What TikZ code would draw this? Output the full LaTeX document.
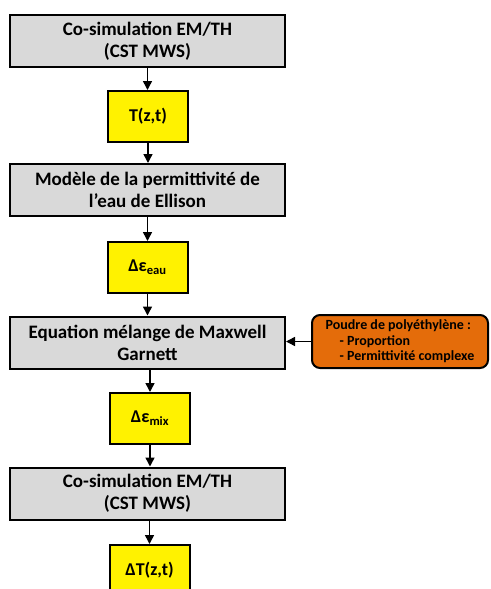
\documentclass[tikz,border=0pt]{standalone}
\usepackage{fontspec}
\setmainfont{Carlito}
\usetikzlibrary{arrows.meta}
\tikzset{
  graybox/.style={draw=black,line width=2pt,fill=gray!30,minimum width=275pt,minimum height=52pt,
    align=center,font=\bfseries\fontsize{19}{22}\selectfont,inner sep=0pt},
  yellowbox/.style={draw=black,line width=2pt,fill=yellow,minimum width=80pt,minimum height=51pt,
    align=center,font=\bfseries\fontsize{18}{21}\selectfont,inner sep=0pt},
  orangebox/.style={draw=black,line width=2pt,rounded corners=8pt,
    minimum width=176pt,minimum height=53pt,align=left,font=\bfseries\fontsize{14}{15.5}\selectfont,inner sep=0pt},
  flow/.style={line width=1.5pt,-{Triangle[length=9pt,width=9pt]}}
}
\definecolor{pebox}{RGB}{228,108,10}
\begin{document}
\begin{tikzpicture}[x=1pt,y=-1pt]
\useasboundingbox (0,0) rectangle (490,589);
\begin{scope}
\clip (0,0) rectangle (490,589);
\node[graybox] (cosim1) at (147.5,41) {Co-simulation EM/TH\\(CST MWS)};
\node[yellowbox] (temp) at (148,116.5) {T(z,t)};
\node[graybox] (ellison) at (147.5,190) {Modèle de la permittivité de\\l’eau de Ellison};
\node[yellowbox] (epseau) at (147.5,267.5) {Δε\textsubscript{eau}};
\node[graybox] (garnett) at (147.5,342.5) {Equation mélange de Maxwell\\Garnett};
\node[yellowbox] (epsmix) at (150,418.5) {Δε\textsubscript{mix}};
\node[graybox] (cosim2) at (147.5,493.5) {Co-simulation EM/TH\\(CST MWS)};
\node[yellowbox,anchor=north] (dtemp) at (149.5,544) {ΔT(z,t)};
\node[orangebox,fill=pebox] (poudre) at (400,341.5) {Poudre de polyéthylène :\\\hspace*{14pt}- Proportion\\\hspace*{14pt}- Permittivité complexe};
\end{scope}
\draw[flow] (cosim1) -- (cosim1 |- temp.north);
\draw[flow] (temp) -- (temp |- ellison.north);
\draw[flow] (ellison.south -| epseau) -- (epseau);
\draw[flow] (epseau) -- (epseau |- garnett.north);
\draw[flow] (garnett.south -| epsmix) -- (epsmix);
\draw[flow] (epsmix) -- (epsmix |- cosim2.north);
\draw[flow] (cosim2.south -| dtemp) -- (dtemp);
\draw[flow] (poudre.west) -- (poudre.west -| garnett.east);
\end{tikzpicture}
\end{document}
